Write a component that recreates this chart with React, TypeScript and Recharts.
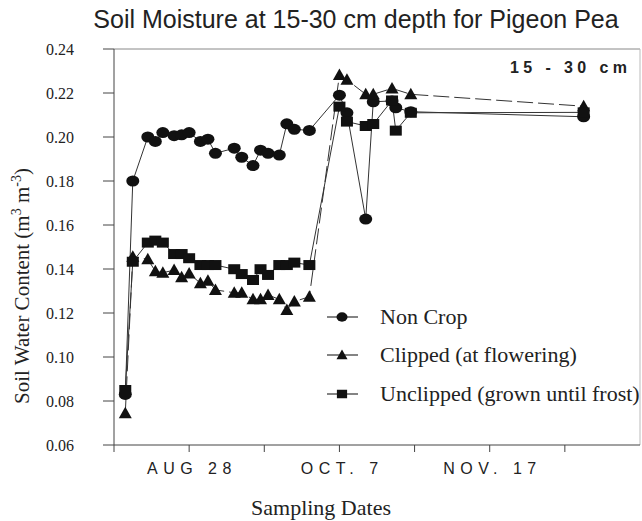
import React from 'react';
import { LineChart, Line, XAxis, YAxis, ReferenceLine, Legend } from 'recharts';

// Days after Aug 8 (day 20 = Aug 28, day 60 = Oct 7, day 100 = Nov 16/17)
const days = [3, 5, 9, 11, 13, 16, 18, 20, 23, 25, 27, 32, 34, 37, 39, 41, 44, 46, 48, 52, 60, 62, 67, 69, 74, 75, 79, 125];
const nonCrop = [0.083, 0.18, 0.2, 0.198, 0.202, 0.2006, 0.201, 0.202, 0.198, 0.199, 0.1926, 0.1949, 0.1908, 0.187, 0.194, 0.1926, 0.1918, 0.206, 0.2035, 0.203, 0.219, 0.211, 0.1627, 0.216, 0.2164, 0.2133, 0.2115, 0.2092];
const clipped = [0.0744, 0.1456, 0.1444, 0.139, 0.1383, 0.1395, 0.1362, 0.138, 0.1335, 0.1347, 0.1305, 0.1292, 0.1292, 0.1262, 0.1262, 0.1282, 0.1262, 0.1214, 0.1252, 0.1274, 0.2282, 0.226, 0.2194, 0.2194, 0.2221, null, 0.2194, 0.214];
const unclipped = [0.085, 0.1433, 0.152, 0.1529, 0.152, 0.1468, 0.1468, 0.1449, 0.1418, 0.1418, 0.1418, 0.1399, 0.1377, 0.135, 0.1399, 0.1373, 0.1418, 0.1418, 0.1429, 0.1418, 0.2138, 0.207, 0.205, 0.2059, 0.2166, 0.2029, 0.211, 0.2112];

const yTicks = [0.06, 0.08, 0.1, 0.12, 0.14, 0.16, 0.18, 0.2, 0.22, 0.24];
const xTicks = [0, 20, 40, 60, 80, 100, 120];
const xTickLabels: Record<number, string> = { 20: 'AUG 28', 60: 'OCT. 7', 100: 'NOV. 17' };

const seriesNames = ['Non Crop', 'Clipped (at flowering)', 'Unclipped (grown until frost)'];
const titleText = 'Soil Moisture at 15-30 cm depth for Pigeon Pea';
const depthText = '15 - 30 cm';
const xAxisTitle = 'Sampling Dates';

const rows = days.map((d, i) => ({ day: d, nonCrop: nonCrop[i], clipped: clipped[i], unclipped: unclipped[i] }));

const SERIF = "'Liberation Serif', 'Times New Roman', serif";
const SANS = "'Liberation Sans', Arial, sans-serif";
const INK = '#111';
const LINE = '#333';

type Kind = 'circle' | 'triangle' | 'square';

function Marker({ kind, cx, cy, s = 1 }: { kind: Kind; cx: number; cy: number; s?: number }) {
  if (kind === 'circle') return <ellipse cx={cx} cy={cy} rx={6.5 * s} ry={5.5 * s} fill={INK} />;
  if (kind === 'triangle')
    return <polygon points={`${cx},${cy - 6.5 * s} ${cx + 6.5 * s},${cy + 5 * s} ${cx - 6.5 * s},${cy + 5 * s}`} fill={INK} />;
  return <rect x={cx - 6 * s} y={cy - 5 * s} width={12 * s} height={10 * s} fill={INK} />;
}

const makeDot = (kind: Kind) => (p: any) => {
  const { cx, cy, value, index } = p;
  if (cx == null || cy == null || value == null) return <g key={`${kind}-${index}`} />;
  return (
    <g key={`${kind}-${index}`}>
      <Marker kind={kind} cx={cx} cy={cy} />
    </g>
  );
};

const XTick = (p: any) => {
  const v = p.payload?.value;
  const lab = xTickLabels[v];
  if (!lab) return <g />;
  return (
    <text x={p.x + 2.8} y={474} textAnchor="middle" fontFamily={SANS} fontSize={16} letterSpacing={5.5} fill="#222">
      {lab}
    </text>
  );
};

const Overlay = () => {
  const kinds: Kind[] = ['circle', 'triangle', 'square'];
  const rowY = [317, 355, 394];
  return (
    <svg width={642} height={521} style={{ position: 'absolute', left: 0, top: 0, overflow: 'visible' }}>
      <text x={356} y={28} textAnchor="middle" fontFamily={SANS} fontSize={25} fill="#222">
        {titleText}
      </text>
      <text x={510} y={73} fontFamily={SANS} fontSize={16} fontWeight="bold" letterSpacing={4.4} fill="#222">
        {depthText}
      </text>
      <text
        transform="translate(29, 286) rotate(-90)"
        textAnchor="middle"
        fontFamily={SERIF}
        fontSize={21}
        fill="#222"
      >
        Soil Water Content (m<tspan fontSize={14} dy={-8}>3</tspan>
        <tspan dy={8}> m</tspan>
        <tspan fontSize={14} dy={-8}>-3</tspan>
        <tspan dy={8}>)</tspan>
      </text>
      <text x={321} y={515} textAnchor="middle" fontFamily={SERIF} fontSize={22} fill="#222">
        {xAxisTitle}
      </text>
      {kinds.map((k, i) => (
        <g key={k}>
          <line x1={327} x2={358} y1={rowY[i]} y2={rowY[i]} stroke={LINE} strokeWidth={1.2} />
          <Marker kind={k} cx={342} cy={rowY[i]} s={0.85} />
          <text x={380} y={rowY[i] + 7} fontFamily={SERIF} fontSize={22} fill="#222">
            {seriesNames[i]}
          </text>
        </g>
      ))}
    </svg>
  );
};

export default function App() {
  return (
    <div style={{ position: 'absolute', left: 0, top: 0, width: 642, height: 521, background: '#fff' }}>
      <LineChart width={642} height={521} data={rows} margin={{ top: 49, right: 2, left: 54, bottom: 46 }}>
        <XAxis
          type="number"
          dataKey="day"
          domain={[0, 140]}
          ticks={xTicks}
          tick={<XTick />}
          tickSize={7}
          axisLine={{ stroke: '#444' }}
          tickLine={{ stroke: '#444' }}
          height={30}
          allowDataOverflow
        />
        <YAxis
          type="number"
          domain={[0.06, 0.24]}
          ticks={yTicks}
          tickFormatter={(v: number) => v.toFixed(2)}
          tickSize={11}
          tickMargin={29}
          width={60}
          axisLine={{ stroke: '#444' }}
          tickLine={{ stroke: '#444' }}
          tick={{ fontFamily: SERIF, fontSize: 16, fill: '#222' }}
          allowDataOverflow
        />
        <ReferenceLine y={0.24} stroke="#888" />
        <ReferenceLine x={140} stroke="#bbb" />
        <Line
          type="linear"
          dataKey="nonCrop"
          stroke={LINE}
          strokeWidth={1}
          dot={makeDot('circle')}
          isAnimationActive={false}
        />
        <Line
          type="linear"
          dataKey="clipped"
          stroke={LINE}
          strokeWidth={1}
          strokeDasharray="16 5"
          connectNulls
          dot={makeDot('triangle')}
          isAnimationActive={false}
        />
        <Line
          type="linear"
          dataKey="unclipped"
          stroke={LINE}
          strokeWidth={1}
          dot={makeDot('square')}
          isAnimationActive={false}
        />
        <Legend
          layout="horizontal"
          verticalAlign="middle"
          align="center"
          content={() => <Overlay />}
          wrapperStyle={{ position: 'absolute', left: 0, top: 0, width: 642, height: 521, pointerEvents: 'none' }}
        />
      </LineChart>
    </div>
  );
}
